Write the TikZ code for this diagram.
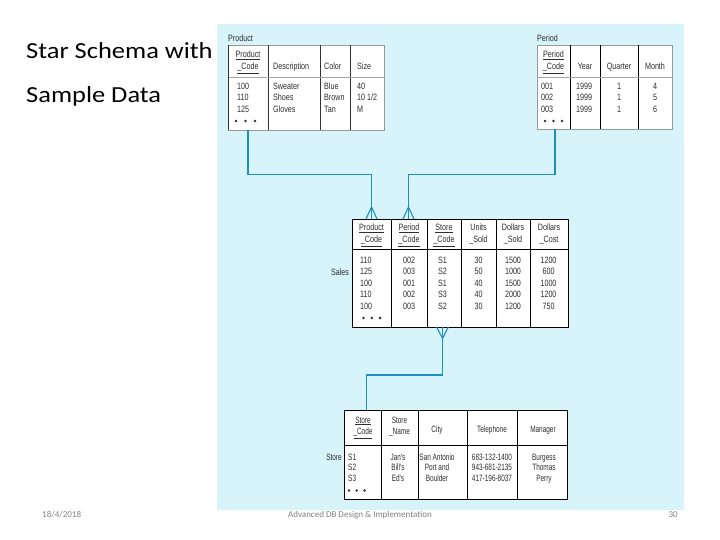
\documentclass[tikz,border=0pt]{standalone}
\usepackage{fontspec}
\setmainfont{Liberation Sans}
\newfontfamily\titlefont[FakeStretch=1.15]{Carlito}
\newfontfamily\footfont{Carlito}
\newfontfamily\tabfont[FakeStretch=0.78]{Liberation Sans}
\newfontfamily\tabfontn[FakeStretch=0.7]{Liberation Sans}
\usetikzlibrary{calc}
\definecolor{bgcyan}{HTML}{D7F4FB}
\definecolor{conn}{HTML}{1E8FBF}
\definecolor{tx}{HTML}{2E2E2E}
\definecolor{foot}{HTML}{808080}
\tikzset{
  cell/.style={font=\tabfont\fontsize{9.2}{11}\selectfont, text=tx, inner sep=0pt},
  ncell/.style={font=\tabfontn\fontsize{9.2}{11}\selectfont, text=tx, inner sep=0pt},
  tlabel/.style={font=\tabfont\fontsize{9.2}{11}\selectfont, text=tx, inner sep=0pt},
  lightbox/.style={draw=black!40, fill=white, line width=0.6pt, inner sep=0pt, outer sep=0pt},
  darkbox/.style={draw=black, fill=white, line width=0.8pt, inner sep=0pt, outer sep=0pt},
  divl/.style={draw=black!80, line width=0.7pt},
  divd/.style={draw=black, line width=0.8pt},
  connector/.style={draw=conn, line width=1.8pt},
  crowfoot/.style={draw=conn, line width=1.1pt},
  dotmark/.style={fill=tx},
  maintitle/.style={font=\titlefont\fontsize{23}{28}\selectfont, text=black, inner sep=0pt},
  footer/.style={font=\footfont\fontsize{9}{11}\selectfont, text=foot, inner sep=0pt}
}
\newcommand\tabcol[7][cell]{%
  \foreach \t [count=\i] in {#6}
    \node[#1, anchor=#7] (#2\i) at (#3,{#4+#5*(\i-1)}) {\t};}
\begin{document}
\begin{tikzpicture}[x=1pt,y=-1pt]
\useasboundingbox (0,0) rectangle (720,540);
\fill[bgcyan] (216.5,24.5) rectangle (684,509.5);

% titles
\node[maintitle, anchor=base west] (title1) at (26,59) {Star Schema with};
\node[maintitle, anchor=base west] (title2) at (26,103) {Sample Data};

% footer
\node[footer, anchor=base west] (fdate) at (42,517) {18/4/2018};
\node[footer, anchor=base] (fmid) at (360,517) {Advanced DB Design \& Implementation};
\node[footer, anchor=base east] (fpage) at (678,517) {30};

% ---------------- Product table
\node[tlabel, anchor=base west] (ptitle) at (228,42) {Product};
\node[lightbox, minimum width=156pt, minimum height=85pt, anchor=north west] (product) at (228,45) {};
\draw[divl] (268,45) -- (268,130) (320,45) -- (320,130) (350,45) -- (350,130);
\draw[draw=black!35, line width=0.6pt] (228,77) -- (384,77);
\draw[divl] (228,45) -- (228,130);
\node[cell, anchor=base] (ph1) at (248,57.5) {\underline{Product}};
\node[cell, anchor=base] (ph2) at (248,69.5) {\underline{\_Code}};
\node[cell, anchor=base west] (ph3) at (273,69.5) {Description};
\node[cell, anchor=base west] (ph4) at (324,69.5) {Color};
\node[cell, anchor=base west] (ph5) at (357,69.5) {Size};
\tabcol{pa}{237}{89.5}{11.5}{100,110,125}{base west}
\tabcol{pb}{273}{89.5}{11.5}{Sweater,Shoes,Gloves}{base west}
\tabcol{pc}{324}{89.5}{11.5}{Blue,Brown,Tan}{base west}
\tabcol{pd}{357}{89.5}{11.5}{40,10 1/2,M}{base west}
\foreach \k in {0,1,2} \fill[dotmark] (236+9.5*\k,121) circle (1.4);

% ---------------- Period table
\node[tlabel, anchor=base west] (qtitle) at (537,42) {Period};
\node[lightbox, minimum width=135pt, minimum height=84pt, anchor=north west] (period) at (537,45) {};
\draw[divd] (570,45) -- (570,129) (600,45) -- (600,129) (638,45) -- (638,129);
\draw[draw=black!35, line width=0.6pt] (537,77) -- (672,77);
\node[cell, anchor=base] (qh1) at (553.5,57.5) {\underline{Period}};
\node[cell, anchor=base] (qh2) at (553.5,69.5) {\underline{\_Code}};
\node[cell, anchor=base] (qh3) at (585,69.5) {Year};
\node[cell, anchor=base] (qh4) at (619,69.5) {Quarter};
\node[cell, anchor=base] (qh5) at (655,69.5) {Month};
\tabcol{qa}{541}{89.5}{11.5}{001,002,003}{base west}
\tabcol{qb}{576}{89.5}{11.5}{1999,1999,1999}{base west}
\tabcol{qc}{619}{89.5}{11.5}{1,1,1}{base}
\tabcol{qd}{655}{89.5}{11.5}{4,5,6}{base}
\foreach \k in {0,1,2} \fill[dotmark] (545+8.5*\k,121) circle (1.4);

% ---------------- Sales table
\node[darkbox, minimum width=216pt, minimum height=108pt, anchor=north west] (sales) at (352,219) {};
\draw[divd] (391,219) -- (391,327) (427,219) -- (427,327) (461,219) -- (461,327)
            (496,219) -- (496,327) (530,219) -- (530,327);
\draw[divd] (352,249) -- (568,249);
\node[cell, anchor=base] (sh1a) at (371.5,230.5) {\underline{Product}};
\node[cell, anchor=base] (sh1b) at (371.5,242.5) {\underline{\_Code}};
\node[cell, anchor=base] (sh2a) at (409,230.5) {\underline{Period}};
\node[cell, anchor=base] (sh2b) at (409,242.5) {\underline{\_Code}};
\node[cell, anchor=base] (sh3a) at (444,230.5) {\underline{Store}};
\node[cell, anchor=base] (sh3b) at (444,242.5) {\underline{\_Code}};
\node[cell, anchor=base] (sh4a) at (478.5,230.5) {Units};
\node[cell, anchor=base] (sh4b) at (478.5,242.5) {\_Sold};
\node[cell, anchor=base] (sh5a) at (513,230.5) {Dollars};
\node[cell, anchor=base] (sh5b) at (513,242.5) {\_Sold};
\node[cell, anchor=base] (sh6a) at (549,230.5) {Dollars};
\node[cell, anchor=base] (sh6b) at (549,242.5) {\_Cost};
\tabcol{sa}{360}{263}{11.5}{110,125,100,110,100}{base west}
\tabcol{sb}{403}{263}{11.5}{002,003,001,002,003}{base west}
\tabcol{sc}{438}{263}{11.5}{S1,S2,S1,S3,S2}{base west}
\tabcol{sd}{478.5}{263}{11.5}{30,50,40,40,30}{base}
\tabcol{se}{513}{263}{11.5}{1500,1000,1500,2000,1200}{base}
\tabcol{sf}{548.5}{263}{11.5}{1200,600,1000,1200,750}{base}
\foreach \k in {0,1,2} \fill[dotmark] (363.5+8.3*\k,318) circle (1.4);
\node[cell, anchor=base] (saleslbl) at (340,275.5) {Sales};

% ---------------- Store table
\node[darkbox, minimum width=223pt, minimum height=89pt, anchor=north west] (store) at (344,410) {};
\draw[divd] (381,410) -- (381,499) (418,410) -- (418,499) (467,410) -- (467,499) (517,410) -- (517,499);
\draw[divd] (344,445) -- (567,445);
\node[ncell, anchor=base] (th1a) at (363,423) {\underline{Store}};
\node[ncell, anchor=base] (th1b) at (363,434.5) {\underline{\_Code}};
\node[ncell, anchor=base] (th2a) at (399.5,423) {Store};
\node[ncell, anchor=base] (th2b) at (399.5,434.5) {\_Name};
\node[ncell, anchor=base] (th3) at (437,432) {City};
\node[ncell, anchor=base] (th4) at (492,432) {Telephone};
\node[ncell, anchor=base] (th5) at (543,432) {Manager};
\tabcol[ncell]{ta}{348}{460}{10.5}{S1,S2,S3}{base west}
\tabcol[ncell]{tb}{398}{460}{10.5}{Jan's,Bill's,Ed's}{base}
\tabcol[ncell]{tc}{437}{460}{10.5}{San Antonio,Port and,Boulder}{base}
\tabcol[ncell]{td}{492}{460}{10.5}{683-132-1400,943-681-2135,417-196-8037}{base}
\tabcol[ncell]{te}{544}{460}{10.5}{Burgess,Thomas,Perry}{base}
\foreach \k in {0,1,2} \fill[dotmark] (349+7.7*\k,490.5) circle (1.4);
\node[ncell, anchor=base] (storelbl) at (334,460) {Store};

% ---------------- connectors
\coordinate (pA) at (247.7,130);
\coordinate (pC) at (371.5,174.5);
\coordinate (pD) at (371.5,219);
\draw[connector] (pA) |- (pC) -- (pD);
\draw[crowfoot] ($(pD)+(-5.5,0)$) -- ($(pD)+(0,-12)$) -- ($(pD)+(5.5,0)$);

\coordinate (qA) at (555,129);
\coordinate (qC) at (408.5,174.5);
\coordinate (qD) at (408.5,219);
\draw[connector] (qA) |- (qC) -- (qD);
\draw[crowfoot] ($(qD)+(-5.5,0)$) -- ($(qD)+(0,-12)$) -- ($(qD)+(5.5,0)$);

\coordinate (rA) at (442.5,327);
\coordinate (rC) at (366.5,375);
\coordinate (rD) at (366.5,410);
\draw[connector] (rA) |- (rC) -- (rD);
\draw[crowfoot] ($(rA)+(-5.8,0)$) -- ($(rA)+(0,11.5)$) -- ($(rA)+(5.8,0)$);
\end{tikzpicture}
\end{document}
